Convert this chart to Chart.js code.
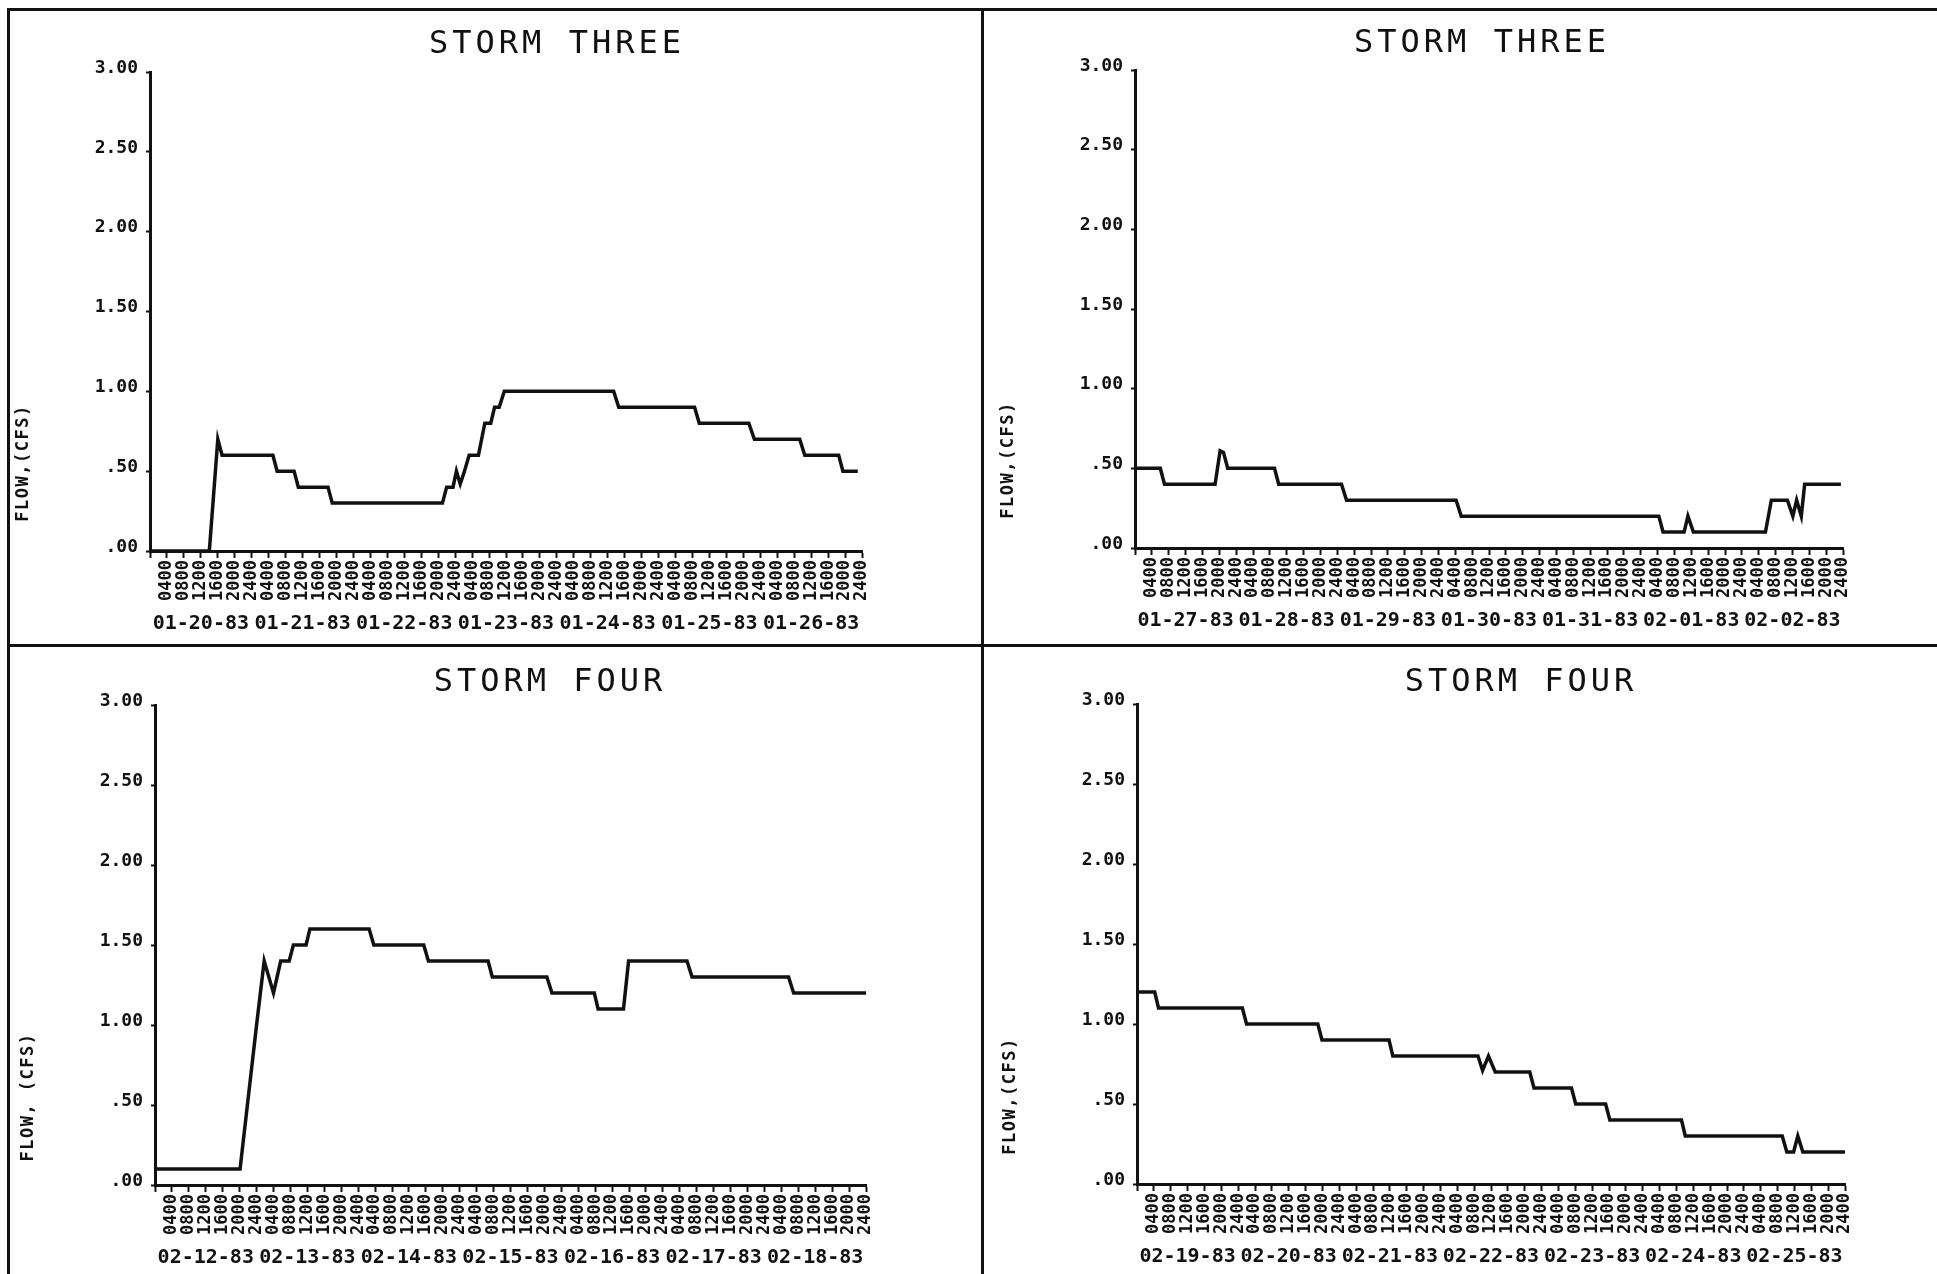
<!DOCTYPE html>
<html>
<head>
<meta charset="utf-8">
<title>Storm flow</title>
<script src="https://cdn.jsdelivr.net/npm/chart.js@4.4.0/dist/chart.umd.min.js"></script>
<style>
  html, body { margin: 0; padding: 0; background: #fff; }
  #page { position: relative; width: 1937px; height: 1274px; overflow: hidden; background: #fff; }
  canvas { position: absolute; }
  .rule { position: absolute; background: #111; }
</style>
</head>
<body>
<div id="page">
  <div class="rule" style="left:7px;top:8px;width:1930px;height:3px"></div>
  <div class="rule" style="left:7px;top:8px;width:3px;height:1266px"></div>
  <div class="rule" style="left:981px;top:8px;width:3px;height:1266px"></div>
  <div class="rule" style="left:7px;top:644px;width:1930px;height:3px"></div>
  <canvas id="c1" width="970" height="632" style="left:10px;top:11px"></canvas>
  <canvas id="c2" width="950" height="632" style="left:985px;top:11px"></canvas>
  <canvas id="c3" width="970" height="625" style="left:10px;top:648px"></canvas>
  <canvas id="c4" width="950" height="625" style="left:985px;top:648px"></canvas>
</div>
<script>
// tick labels
const hourLabels = ['0400', '0800', '1200', '1600', '2000', '2400'];
const yTickLabels = ['.00', '.50', '1.00', '1.50', '2.00', '2.50', '3.00'];

// storm three, first week
const dates1 = ['01-20-83', '01-21-83', '01-22-83', '01-23-83', '01-24-83', '01-25-83', '01-26-83'];
const hours1 = [0, 14, 16, 17, 29, 30, 34, 35, 42, 43, 69, 70, 71.5, 72.3, 73.2, 74.2, 75.3, 77.5, 79, 80.4, 81.3, 82.4, 83.6, 109.4, 110.6, 128.5, 129.6, 141.3, 142.6, 153.3, 154.5, 162.5, 163.5, 167];
const flow1 = [0, 0, 0.70, 0.60, 0.60, 0.50, 0.50, 0.40, 0.40, 0.30, 0.30, 0.40, 0.40, 0.50, 0.42, 0.50, 0.60, 0.60, 0.80, 0.80, 0.90, 0.90, 1.00, 1.00, 0.90, 0.90, 0.80, 0.80, 0.70, 0.70, 0.60, 0.60, 0.50, 0.50];

// storm three, second week
const dates2 = ['01-27-83', '01-28-83', '01-29-83', '01-30-83', '01-31-83', '02-01-83', '02-02-83'];
const hours2 = [0, 6, 7, 19, 20.2, 21, 22, 33.1, 34.1, 49, 50.2, 76.2, 77.4, 124.3, 125.3, 130.3, 131.2, 132.5, 149.6, 151, 154.8, 156.1, 157, 158.1, 158.9, 167.5];
const flow2 = [0.50, 0.50, 0.40, 0.40, 0.61, 0.60, 0.50, 0.50, 0.40, 0.40, 0.30, 0.30, 0.20, 0.20, 0.10, 0.10, 0.20, 0.10, 0.10, 0.30, 0.30, 0.20, 0.30, 0.20, 0.40, 0.40];

// storm four, first week
const dates3 = ['02-12-83', '02-13-83', '02-14-83', '02-15-83', '02-16-83', '02-17-83', '02-18-83'];
const hours3 = [0, 20.1, 24, 25.8, 28, 29.7, 31.7, 32.7, 35.7, 36.6, 50.6, 51.7, 63.5, 64.6, 78.7, 79.7, 92.6, 93.8, 103.8, 104.7, 110.7, 111.9, 125.7, 126.9, 149.7, 150.9, 168];
const flow3 = [0.10, 0.10, 1.00, 1.40, 1.20, 1.40, 1.40, 1.50, 1.50, 1.60, 1.60, 1.50, 1.50, 1.40, 1.40, 1.30, 1.30, 1.20, 1.20, 1.10, 1.10, 1.40, 1.40, 1.30, 1.30, 1.20, 1.20];

// storm four, second week
const dates4 = ['02-19-83', '02-20-83', '02-21-83', '02-22-83', '02-23-83', '02-24-83', '02-25-83'];
const hours4 = [0, 4.2, 5.1, 25, 26, 42.9, 43.9, 59.8, 60.7, 80.9, 82, 83.4, 85, 93.2, 94.2, 103.1, 104.1, 111.2, 112.2, 129.2, 130.1, 153.1, 154.2, 155.8, 156.8, 158, 168];
const flow4 = [1.20, 1.20, 1.10, 1.10, 1.00, 1.00, 0.90, 0.90, 0.80, 0.80, 0.71, 0.80, 0.70, 0.70, 0.60, 0.60, 0.50, 0.50, 0.40, 0.40, 0.30, 0.30, 0.20, 0.20, 0.30, 0.20, 0.20];

const MONO = '"DejaVu Sans Mono", "Liberation Mono", monospace';

// title + rotated y label, placed where the plotter put them
const panelText = {
  id: 'panelText',
  afterDraw(chart, args, opts) {
    const { ctx, chartArea } = chart;
    ctx.save();
    ctx.fillStyle = '#111';
    ctx.textAlign = 'center';
    ctx.textBaseline = 'middle';
    ctx.font = '32px ' + MONO;
    ctx.letterSpacing = '4px';
    ctx.fillText(opts.title, opts.titleX, opts.titleY);
    ctx.font = 'bold 17px ' + MONO;
    ctx.letterSpacing = '1.5px';
    ctx.translate(chartArea.left - 126, chartArea.bottom - 88);
    ctx.rotate(-Math.PI / 2);
    ctx.fillText(opts.yTitle, 0, 0);
    ctx.restore();
  }
};

function makeStorm(id, panel, plot, title, yTitle, dates, hours, flow) {
  const xHeight = 53;
  return new Chart(document.getElementById(id), {
    type: 'line',
    data: {
      datasets: [{
        data: hours.map((h, i) => ({ x: h, y: flow[i] })),
        borderColor: '#111',
        borderWidth: 3.5,
        pointRadius: 0,
        tension: 0,
        fill: false
      }]
    },
    options: {
      responsive: false,
      animation: false,
      devicePixelRatio: 1,
      layout: { padding: { left: 0, top: plot.t - panel.top, right: panel.left + panel.width - plot.r, bottom: 0 } },
      plugins: {
        legend: { display: false },
        tooltip: { enabled: false },
        panelText: {
          title, yTitle,
          titleX: panel.titleX - panel.left,
          titleY: panel.titleY - panel.top
        }
      },
      scales: {
        y: {
          min: 0, max: 3,
          afterFit: s => { s.width = plot.l - panel.left; },
          border: { display: true, color: '#111', width: 3 },
          grid: { drawOnChartArea: false, drawTicks: true, tickLength: 4, tickWidth: 2, tickColor: '#111' },
          ticks: {
            stepSize: 0.5,
            padding: 8,
            labelOffset: -4,
            color: '#111',
            font: { family: MONO, size: 18, weight: 'bold' },
            callback: (v, i) => yTickLabels[i]
          }
        },
        x: {
          type: 'linear',
          min: 0, max: 168,
          weight: 0,
          afterFit: s => { s.height = xHeight; },
          border: { display: true, color: '#111', width: 3 },
          grid: { drawOnChartArea: false, drawTicks: true, tickLength: 7, tickWidth: 2, tickColor: '#111' },
          ticks: {
            stepSize: 4,
            maxTicksLimit: 60,
            autoSkip: false,
            minRotation: 90,
            maxRotation: 90,
            padding: 2,
            color: '#111',
            font: { family: MONO, size: 17, weight: 'bold' },
            callback: v => v === 0 ? '' : hourLabels[(Math.round(v / 4) - 1) % 6]
          }
        },
        x2: {
          type: 'linear',
          position: 'bottom',
          min: 0, max: 168,
          weight: 1,
          afterFit: s => { s.height = panel.top + panel.height - plot.b - xHeight; },
          afterBuildTicks: s => { s.ticks = dates.map((d, i) => ({ value: i * 24 + 12 })); },
          border: { display: false },
          grid: { display: false, drawTicks: false },
          ticks: {
            autoSkip: false,
            maxRotation: 0,
            padding: 8,
            color: '#111',
            font: { family: MONO, size: 20, weight: 'bold' },
            callback: (v, i) => dates[i]
          }
        }
      }
    },
    plugins: [panelText]
  });
}

makeStorm('c1', { left: 10, top: 11, width: 970, height: 632, titleX: 557, titleY: 45 },
  { l: 150, t: 72, r: 862, b: 551 }, 'STORM THREE', 'FLOW,(CFS)', dates1, hours1, flow1);
makeStorm('c2', { left: 985, top: 11, width: 950, height: 632, titleX: 1482, titleY: 44 },
  { l: 1135, t: 70, r: 1843, b: 548 }, 'STORM THREE', 'FLOW,(CFS)', dates2, hours2, flow2);
makeStorm('c3', { left: 10, top: 648, width: 970, height: 625, titleX: 550, titleY: 683 },
  { l: 155, t: 705, r: 866, b: 1185 }, 'STORM FOUR', 'FLOW, (CFS)', dates3, hours3, flow3);
makeStorm('c4', { left: 985, top: 648, width: 950, height: 625, titleX: 1521, titleY: 683 },
  { l: 1137, t: 704, r: 1845, b: 1184 }, 'STORM FOUR', 'FLOW,(CFS)', dates4, hours4, flow4);
</script>
</body>
</html>
